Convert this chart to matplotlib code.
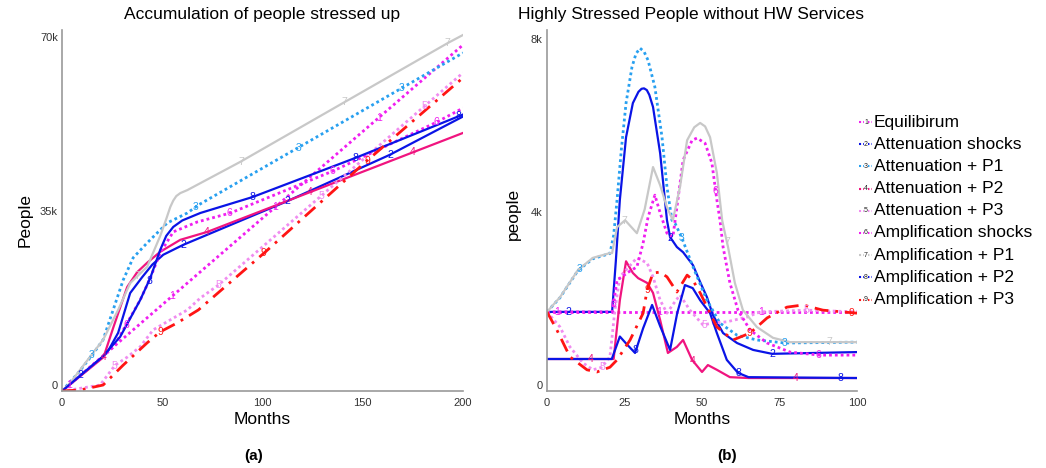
import matplotlib
matplotlib.use("Agg")
import matplotlib.pyplot as plt
import numpy as np
from matplotlib.lines import Line2D

plt.rcParams['font.family'] = ['Liberation Sans', 'DejaVu Sans']

# scenario names (legend)
names = ["Equilibirum", "Attenuation shocks", "Attenuation + P1", "Attenuation + P2",
         "Attenuation + P3", "Amplification shocks", "Amplification + P1",
         "Amplification + P2", "Amplification + P3"]
colors = ['#f01ef0', '#0a14e6', '#28a0f0', '#f0147f', '#f08cf0',
          '#f01ef0', '#c8c8c8', '#0a14e6', '#ff1414']
dot = (0, (1, 1.1))
styles = [dot, '-', dot, '-', dot, dot, '-', '-', (0, (5, 2.5, 1, 2.5))]

# (a) accumulation of people stressed up, thousands, by month
acc1_m = [0, 20, 200]
acc1 = [0, 6.9, 69.6]
acc2_m = [0, 20, 22.5, 28, 34, 40, 45, 50.5, 60.5, 112.5, 163.5, 200]
acc2 = [0, 6.8, 7.7, 11.7, 19.7, 22.9, 25.4, 27.4, 29.4, 38.2, 47.5, 55.2]
acc3_m = [0, 8, 15, 20.5, 25.5, 30.5, 35.5, 42.5, 52.5, 62.5, 68, 200]
acc3 = [0, 3.6, 7.2, 10.3, 16.3, 22.3, 26.8, 29.8, 33.8, 35.8, 37.4, 68.0]
acc4_m = [0, 20.7, 25.7, 32.5, 37.5, 42.5, 49, 59, 72.5, 200]
acc4 = [0, 6.8, 12.9, 20.9, 23.9, 25.8, 28.0, 30.4, 32.0, 51.9]
acc5_m = [0, 4, 19, 26.5, 32.5, 39, 45.5, 54, 62.5, 69, 78, 200]
acc5 = [0, 0.2, 1.2, 5.2, 6.8, 8.9, 12.3, 14.3, 16.3, 18.7, 21.3, 64.0]
acc6_m = [0, 20, 26, 32.5, 39, 44, 49, 55.5, 67.5, 84, 135.5, 187, 200]
acc6 = [0, 6.8, 9.0, 13.7, 18.3, 22.7, 27.8, 32.0, 34.0, 35.8, 44.3, 54.1, 56.9]
acc7_m = [0, 4, 20.5, 28, 34, 42.5, 49, 52, 54, 55.5, 57, 59, 62.5, 89, 140.5, 192.5, 200]
acc7 = [0, 1.6, 10.3, 16.3, 21.7, 25.0, 31.2, 34.6, 37.0, 38.3, 39.2, 39.8, 40.4, 46.1, 58.0,
        70.0, 71.6]
acc8_m = [0, 20, 29, 39, 44, 49, 52, 55.5, 60, 69, 95, 146.5, 200]
acc8 = [0, 6.8, 10.9, 18.3, 22.7, 28.4, 31.2, 33.0, 34.3, 35.8, 39.0, 46.9, 55.6]
acc9_m = [0, 9, 20.5, 30.5, 42.5, 49, 57.5, 68, 101.5, 151.5, 200]
acc9 = [0, 0.2, 1.2, 5.2, 9.7, 11.9, 13.7, 16.3, 28.0, 46.1, 63.0]

# (b) highly stressed people without HW services, thousands, by month
hw1_m = [0, 100]
hw1 = [1.83, 1.83]
hw2_m = [0, 21, 22.2, 23.5, 25.5, 27.7, 29.5, 30.5, 31.3, 32.2, 33, 34.2, 36.5, 38.7, 39.7,
         41.9, 43.9, 47.1, 49.4, 51.6, 53.5, 56.8, 61.3, 66.5, 72.6, 100]
hw2 = [1.83, 1.83, 3.0, 4.42, 5.87, 6.66, 6.92, 6.99, 7.0, 6.96, 6.85, 6.57, 5.50, 3.95, 3.56,
       3.33, 3.21, 2.91, 2.52, 2.17, 1.76, 1.34, 1.11, 0.95, 0.86, 0.90]
hw3_m = [0, 4.2, 10, 14.8, 20.3, 21.5, 22.6, 24, 25.5, 27.4, 28.7, 30, 31.3, 32.6, 34.8, 37.1,
         38.7, 40.3, 41.3, 43.5, 47.1, 51.6, 55.8, 61.3, 67.7, 76.8, 100]
hw3 = [1.83, 2.16, 2.79, 3.06, 3.18, 3.6, 4.42, 5.6, 6.66, 7.49, 7.8, 7.93, 7.85, 7.65, 7.03,
       5.87, 4.72, 3.95, 3.88, 3.54, 2.87, 2.10, 1.57, 1.29, 1.18, 1.11, 1.13]
hw4_m = [0, 21.5, 23.5, 25.5, 27.7, 29.4, 32.3, 34.2, 36.5, 39, 41.9, 43.9, 46.8, 50,
         51.9, 54.8, 59, 65, 100]
hw4 = [0.74, 0.74, 2.10, 3.00, 2.73, 2.61, 2.50, 2.27, 1.64, 0.88, 1.02, 1.18, 0.72, 0.44,
       0.60, 0.49, 0.32, 0.30, 0.30]
hw5_m = [0, 4.2, 7.4, 11.6, 14.8, 17.7, 20.3, 21.9, 23.5, 26, 29, 32.3, 34.2, 36.5, 38.7,
         40.5, 42.9, 46.1, 50.3, 53.5, 58, 64.5, 68.7, 83.9, 100]
hw5 = [1.83, 1.48, 1.02, 0.65, 0.49, 0.55, 0.79, 1.87, 2.64, 2.84, 3.08, 2.96, 2.64, 2.10, 1.80,
       1.99, 2.22, 1.87, 1.53, 1.57, 1.60, 1.71, 1.83, 1.87, 1.83]
hw6_m = [0, 21, 22.6, 24.2, 25.8, 29, 31, 32.6, 34.8, 36.5, 38.7, 40.6, 41.9, 43.9, 46.8,
         48.4, 51, 53.2, 54.8, 55.8, 56.8, 59, 61.6, 65.5, 71, 78.4, 88, 100]
hw6 = [1.83, 1.83, 2.57, 2.64, 2.73, 2.87, 3.42, 4.02, 4.53, 4.12, 3.65, 3.56, 4.25, 5.34, 5.80,
       5.85, 5.73, 5.27, 4.42, 3.95, 3.33, 2.50, 1.87, 1.41, 1.11, 0.90, 0.83, 0.83]
hw7_m = [0, 4.2, 10, 14.8, 20.3, 21, 22.6, 25.2, 29, 31.5, 34.2, 36.5, 38.7, 40.6, 42.9,
         45.2, 47.5, 49.4, 51, 52.6, 54.8, 56.5, 57.4, 58.4, 60.6, 63.2, 67.7, 72.9, 78.4, 100]
hw7 = [1.83, 2.17, 2.80, 3.08, 3.19, 3.19, 3.79, 3.95, 3.65, 4.2, 5.18, 4.76, 4.25, 3.95, 4.72,
       5.80, 6.10, 6.20, 6.12, 5.87, 5.04, 3.95, 3.65, 3.33, 2.50, 1.87, 1.48, 1.23, 1.13, 1.13]
hw8_m = [0, 20.9, 23.5, 25.5, 28.4, 31, 33.9, 36.5, 39.7, 42, 44.5, 47, 49.4, 52.6,
         54.8, 58, 61.6, 65, 100]
hw8 = [0.74, 0.74, 1.26, 1.10, 0.88, 1.45, 1.99, 1.50, 0.95, 1.80, 2.45, 2.38, 2.10, 1.80,
       1.34, 0.72, 0.42, 0.32, 0.30]
hw9_m = [0, 3.2, 7.4, 12.9, 16.1, 20.3, 22.6, 26.8, 31, 32.3, 34.2, 36.5, 38.7, 41.9, 45.2,
         47, 49.4, 54.8, 60, 65.5, 71, 77.4, 82.6, 89, 100]
hw9 = [1.83, 1.41, 0.79, 0.49, 0.44, 0.55, 0.72, 1.18, 1.80, 2.34, 2.73, 2.75, 2.64, 2.29, 2.68,
       2.57, 2.27, 1.48, 1.18, 1.34, 1.69, 1.94, 1.99, 1.87, 1.80]

acc = [(acc1_m, acc1), (acc2_m, acc2), (acc3_m, acc3), (acc4_m, acc4), (acc5_m, acc5),
       (acc6_m, acc6), (acc7_m, acc7), (acc8_m, acc8), (acc9_m, acc9)]
hw = [(hw1_m, hw1), (hw2_m, hw2), (hw3_m, hw3), (hw4_m, hw4), (hw5_m, hw5),
      (hw6_m, hw6), (hw7_m, hw7), (hw8_m, hw8), (hw9_m, hw9)]

W, H = 1046, 468
fig = plt.figure(figsize=(W / 100, H / 100), dpi=100)
ax1 = fig.add_axes([62 / W, 1 - 391 / H, 401 / W, 361 / H])
ax2 = fig.add_axes([547 / W, 1 - 391 / H, 310 / W, 361 / H])


def draw(ax, data, xmax, ymax, start, step, period):
    for i, (m, v) in enumerate(data):
        lw = 2.0 if styles[i] != '-' else 1.6
        ax.plot(m, v, color=colors[i], linestyle=styles[i], lw=lw)
        # numbered markers along each line
        x = start + step * i
        while x < xmax:
            ax.text(x, np.interp(x, m, v), str(i + 1), color=colors[i], fontsize=7.5,
                    ha='center', va='center')
            x += period
    ax.set_xlim(0, xmax)
    ax.set_ylim(0, ymax)
    for s in ['top', 'right']:
        ax.spines[s].set_visible(False)
    for s in ['left', 'bottom']:
        ax.spines[s].set_color('#9a9a9a')
        ax.spines[s].set_linewidth(1.2)
    ax.tick_params(length=0, labelsize=8, labelcolor='#333333')
    ax.tick_params(axis='y', pad=3)
    ax.tick_params(axis='x', pad=5)


draw(ax1, acc, 200, 72.6, 3.5, 5.7, 51.5)
ax1.set_xticks([0, 50, 100, 150, 200])
ax1.set_yticks([0, 35, 70], labels=['0', '35k', '70k'], va='bottom')

draw(ax2, hw, 100, 8.35, 3.2, 3.64, 33)
ax2.set_xticks([0, 25, 50, 75, 100])
ax2.set_yticks([0, 4, 8], labels=['0', '4k', '8k'], va='bottom')

fig.text(262 / W, 1 - 15 / H, "Accumulation of people stressed up", fontsize=12.5,
         ha='center', va='center')
fig.text(691 / W, 1 - 15 / H, "Highly Stressed People without HW Services", fontsize=12.5,
         ha='center', va='center')
fig.text(25 / W, 1 - 220 / H, "People", fontsize=12.5, rotation=90, ha='center', va='center')
fig.text(513 / W, 1 - 214 / H, "people", fontsize=12.5, rotation=90, ha='center', va='center')
fig.text(262 / W, 1 - 419 / H, "Months", fontsize=12.5, ha='center', va='center')
fig.text(702 / W, 1 - 419 / H, "Months", fontsize=12.5, ha='center', va='center')
fig.text(254 / W, 1 - 456 / H, "(a)", fontsize=11, fontweight='bold', ha='center', va='center')
fig.text(727 / W, 1 - 456 / H, "(b)", fontsize=11, fontweight='bold', ha='center', va='center')

# legend
for i, name in enumerate(names):
    y = 1 - (122 + 22.2 * i) / H
    fig.add_artist(Line2D([859 / W, 872 / W], [y, y], color=colors[i], lw=1.5,
                          linestyle=(0, (1, 1))))
    fig.text(866 / W, y, str(i + 1), fontsize=5, color='#222222', ha='center', va='center',
             bbox=dict(facecolor='white', edgecolor='none', pad=0.3))
    fig.text(874 / W, y, name, fontsize=12.5, ha='left', va='center')

fig.savefig("out.png", dpi=100)
